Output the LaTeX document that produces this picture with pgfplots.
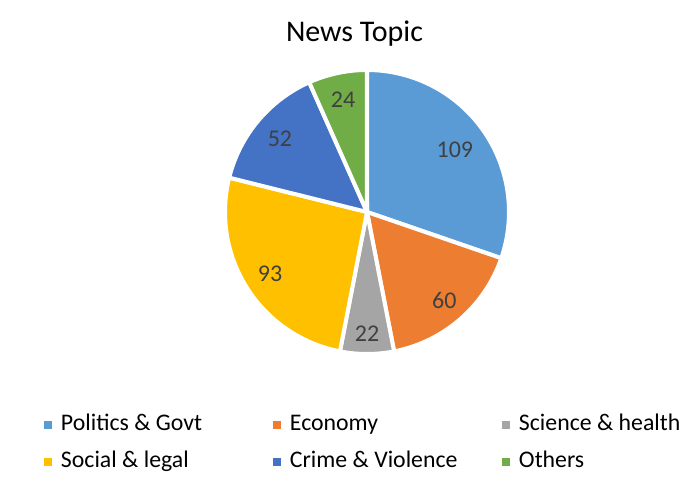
\documentclass[border=0pt]{standalone}
\usepackage{pgfplots}
\pgfplotsset{compat=1.18}
\usepackage{pgfplotstable}
\usepackage{fontspec}
\setmainfont{Carlito}

\definecolor{c1}{HTML}{5B9BD5}
\definecolor{c2}{HTML}{ED7D31}
\definecolor{c3}{HTML}{A5A5A5}
\definecolor{c4}{HTML}{FFC000}
\definecolor{c5}{HTML}{4472C4}
\definecolor{c6}{HTML}{70AD47}
\definecolor{labgray}{HTML}{404040}

% news topic counts, in chart order (clockwise from 12 o'clock)
% lr = label distance as a fraction of the radius
\pgfplotstableread{
value col lr
109 c1 0.76
60  c2 0.83
22  c3 0.86
93  c4 0.81
52  c5 0.80
24  c6 0.81
}\topics

\begin{document}
\begin{tikzpicture}
% pixel-like frame: 697 x 492 units, 1 unit = 0.5pt
\begin{axis}[
    scale only axis,
    width=348.5pt, height=246pt,
    xmin=0, xmax=697, ymin=0, ymax=492,
    hide axis, clip=false,
    legend columns=3,
    legend cell align=left,
    legend image code/.code={\fill[#1,draw=none] (0pt,-2pt) rectangle (4pt,2pt);},
    legend style={draw=none, fill=none, inner sep=0pt, outer sep=0pt,
        at={(axis cs:44,77)}, anchor=north west,
        font=\fontsize{11.9}{14}\selectfont,
        nodes={inner sep=0pt, text height=8pt, text depth=2pt},
        row sep=8.35pt,
        /tikz/every odd column/.append style={column sep=4.5pt},
        /tikz/every even column/.append style={column sep=0pt}},
]
\pgfmathsetmacro{\total}{0}
\pgfplotsforeachungrouped \i in {0,...,5}{%
  \pgfplotstablegetelem{\i}{value}\of\topics
  \pgfmathsetmacro{\total}{\total+\pgfplotsretval}%
}
\def\cur{90}
\pgfplotsforeachungrouped \i in {0,...,5}{%
  \pgfplotstablegetelem{\i}{value}\of\topics \let\val\pgfplotsretval
  \pgfplotstablegetelem{\i}{col}\of\topics \let\col\pgfplotsretval
  \pgfplotstablegetelem{\i}{lr}\of\topics \let\lrad\pgfplotsretval
  \pgfmathsetmacro{\nxt}{\cur-\val/\total*360}%
  \pgfmathsetmacro{\midang}{(\cur+\nxt)/2}%
  \pgfmathsetmacro{\lx}{367+142*\lrad*cos(\midang)}%
  \pgfmathsetmacro{\ly}{280+142*\lrad*sin(\midang)}%
  \edef\temp{\noexpand\addplot[fill=\col, draw=white, line width=2pt,
      line join=round, domain=\nxt:\cur, samples=90]
      ({367+142*cos(x)},{280+142*sin(x)}) -- (axis cs:367,280) -- cycle;
    \noexpand\node[text=labgray, font=\noexpand\fontsize{12}{14}\noexpand\selectfont]
      at (axis cs:\lx,\ly) {\val};}%
  \temp
  \let\cur\nxt
}
\node[anchor=base, font=\fontsize{15}{18}\selectfont] at (axis cs:354.5,450.3) {News Topic};
\legend{\makebox[106pt][l]{Politics \& Govt},
        \makebox[106pt][l]{Economy},
        Science \& health,
        \makebox[106pt][l]{Social \& legal},
        \makebox[106pt][l]{Crime \& Violence},
        Others}
\end{axis}
\pgfresetboundingbox
\path (current axis.south west) rectangle (current axis.north east);
\end{tikzpicture}
\end{document}
